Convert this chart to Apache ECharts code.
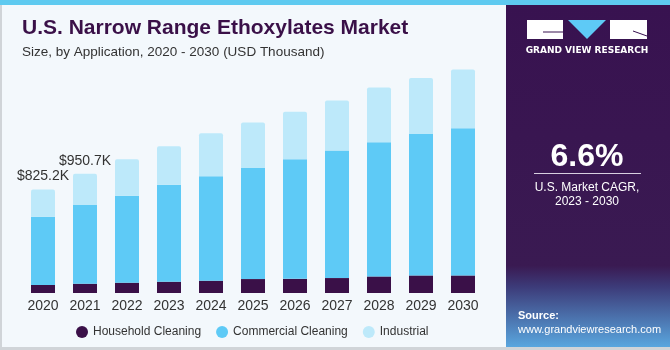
<!DOCTYPE html>
<html>
<head>
<meta charset="utf-8">
<script src="https://cdn.jsdelivr.net/npm/echarts@6/dist/echarts.min.js"></script>
<style>
  html, body { margin: 0; padding: 0; background: #f3f8fc; }
  #main { width: 670px; height: 350px; }
</style>
</head>
<body>
<div id="main"></div>
<script>
// values in USD thousand
var years = ['2020', '2021', '2022', '2023', '2024', '2025', '2026', '2027', '2028', '2029', '2030'];
var household = [64, 74, 82, 90, 98, 111, 113, 119, 132, 140, 140];
var commercial = [544, 627, 693, 772, 833, 886, 953, 1016, 1070, 1126, 1173];
var industrial = [217, 250, 290, 308, 342, 361, 379, 398, 435, 448, 467];
var totalLabels = ['$825.2K', '$950.7K', '', '', '', '', '', '', '', '', ''];

var chart = echarts.init(document.getElementById('main'));

var option = {
  backgroundColor: '#f3f8fc',
  animation: false,
  title: [
    {
      text: 'U.S. Narrow Range Ethoxylates Market',
      left: 17, top: 13,
      textStyle: { fontFamily: 'Liberation Sans', fontWeight: 'bold', fontSize: 21, color: '#3a1048' }
    },
    {
      text: 'Size, by Application, 2020 - 2030 (USD Thousand)',
      left: 17, top: 40,
      textStyle: { fontFamily: 'Liberation Sans', fontWeight: 'normal', fontSize: 13.5, color: '#333' }
    }
  ],
  legend: {
    left: 71, top: 321,
    icon: 'circle',
    itemWidth: 12, itemHeight: 12, itemGap: 15,
    textStyle: { fontFamily: 'Liberation Sans', fontSize: 12, color: '#333' },
    data: ['Household Cleaning', 'Commercial Cleaning', 'Industrial']
  },
  grid: { left: 22, right: 186, top: 42, bottom: 57 },
  xAxis: {
    type: 'category',
    data: years,
    axisLine: { show: false },
    axisTick: { show: false },
    axisLabel: { fontFamily: 'Liberation Sans', fontSize: 14, color: '#333', margin: 6 }
  },
  yAxis: {
    type: 'value', min: 0, max: 2000,
    show: false,
    splitLine: { show: false }
  },
  series: [
    {
      name: 'Household Cleaning', type: 'bar', stack: 'a', barWidth: 24,
      itemStyle: { color: '#3a1048' },
      data: household
    },
    {
      name: 'Commercial Cleaning', type: 'bar', stack: 'a',
      itemStyle: { color: '#5ecaf6' },
      data: commercial
    },
    {
      name: 'Industrial', type: 'bar', stack: 'a',
      itemStyle: { color: '#bde9fa', borderRadius: [2, 2, 0, 0] },
      label: {
        show: true, position: 'top', distance: 6,
        fontFamily: 'Liberation Sans', fontSize: 14, color: '#333',
        formatter: function (p) { return totalLabels[p.dataIndex]; }
      },
      data: industrial
    }
  ],
  graphic: [
    // top strip
    { type: 'rect', shape: { x: 0, y: 0, width: 670, height: 5 }, style: { fill: '#5ecaf0' }, z: 10 },
    // left border
    { type: 'rect', shape: { x: 0, y: 5, width: 2, height: 345 }, style: { fill: '#d0d4d8' }, z: 10 },
    // right panel
    { type: 'rect', shape: { x: 506, y: 5, width: 164, height: 343 }, style: {
        fill: new echarts.graphic.LinearGradient(0, 0, 0, 1, [
          { offset: 0, color: '#381250' },
          { offset: 0.76, color: '#3a1a52' },
          { offset: 0.82, color: '#3c3a78' },
          { offset: 1, color: '#5aa8e0' }
        ])
      }, z: 10 },
    // bottom border
    { type: 'rect', shape: { x: 0, y: 347, width: 670, height: 3 }, style: { fill: '#d0d4d8' }, z: 11 },
    // logo
    { type: 'rect', shape: { x: 527, y: 20, width: 36, height: 19 }, style: { fill: '#ffffff' }, z: 11 },
    { type: 'polyline', shape: { points: [[543, 32], [563, 32]] }, style: { stroke: '#381250', lineWidth: 1 }, z: 12 },
    { type: 'polygon', shape: { points: [[568, 20], [606, 20], [587, 39]] }, style: { fill: '#5ecaf6' }, z: 11 },
    { type: 'rect', shape: { x: 610, y: 20, width: 37, height: 19 }, style: { fill: '#ffffff' }, z: 11 },
    { type: 'polyline', shape: { points: [[633, 31], [647, 36]] }, style: { stroke: '#381250', lineWidth: 1 }, z: 12 },
    { type: 'text', x: 587, y: 51, style: { text: 'GRAND VIEW RESEARCH', fill: '#ffffff', font: 'bold 9px "DejaVu Sans"', align: 'center', verticalAlign: 'middle' }, z: 11 },
    // CAGR
    { type: 'text', x: 587, y: 157, style: { text: '6.6%', fill: '#ffffff', font: 'bold 32px "Liberation Sans"', align: 'center', verticalAlign: 'middle' }, z: 11 },
    { type: 'rect', shape: { x: 534, y: 173, width: 107, height: 1 }, style: { fill: '#d8cfe0' }, z: 11 },
    { type: 'text', x: 587, y: 188, style: { text: 'U.S. Market CAGR,', fill: '#ffffff', font: '12px "Liberation Sans"', align: 'center', verticalAlign: 'middle' }, z: 11 },
    { type: 'text', x: 587, y: 202, style: { text: '2023 - 2030', fill: '#ffffff', font: '12px "Liberation Sans"', align: 'center', verticalAlign: 'middle' }, z: 11 },
    // source
    { type: 'text', x: 518, y: 316, style: { text: 'Source:', fill: '#ffffff', font: 'bold 11px "Liberation Sans"', verticalAlign: 'middle' }, z: 11 },
    { type: 'text', x: 518, y: 330, style: { text: 'www.grandviewresearch.com', fill: '#ffffff', font: '11px "Liberation Sans"', verticalAlign: 'middle' }, z: 11 }
  ]
};

chart.setOption(option);
</script>
</body>
</html>
